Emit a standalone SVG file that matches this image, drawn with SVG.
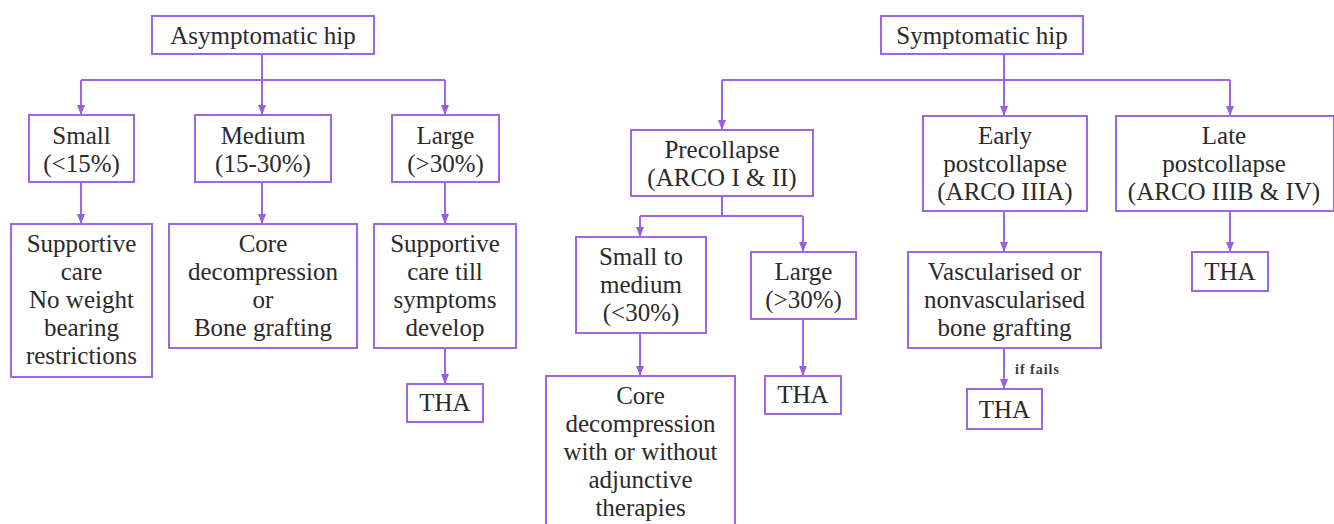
<svg xmlns="http://www.w3.org/2000/svg" width="1334" height="524" viewBox="0 0 1334 524">
<defs>
<marker id="ah" markerUnits="userSpaceOnUse" markerWidth="10" markerHeight="8" refX="10" refY="4" orient="auto">
<path d="M0,0 L10,4 L0,8 Z" fill="#9b5de0"/>
</marker>
<style>
.box{fill:#fff;stroke:#a066e0;stroke-width:2}
.t{font-family:'Liberation Serif',serif;font-size:25px;fill:#2a2a2a;text-anchor:middle}
.s{font-family:'Liberation Serif',serif;font-size:14px;font-weight:bold;letter-spacing:1px;fill:#3a3a3a}
.c{fill:none;stroke:#a066e0;stroke-width:2}
.a{fill:none;stroke:#a066e0;stroke-width:2;marker-end:url(#ah)}
</style>
</defs>
<rect width="1334" height="524" fill="#fff"/>
<g id="connectors">
<path class="c" d="M262,54 V80 M81,80 H445"/>
<path class="a" d="M81,80 V115"/>
<path class="a" d="M262,80 V115"/>
<path class="a" d="M445,80 V115"/>
<path class="a" d="M81,182 V224"/>
<path class="a" d="M262,182 V224"/>
<path class="a" d="M445,182 V224"/>
<path class="a" d="M445,348 V384"/>
<path class="c" d="M1004,54 V80 M722,80 H1230"/>
<path class="a" d="M722,80 V130"/>
<path class="a" d="M1004,80 V116"/>
<path class="a" d="M1230,80 V116"/>
<path class="c" d="M722,196 V216 M640,216 H803"/>
<path class="a" d="M640,216 V237"/>
<path class="a" d="M803,216 V252"/>
<path class="a" d="M640,333 V376"/>
<path class="a" d="M803,319 V376"/>
<path class="a" d="M1004,211 V252"/>
<path class="a" d="M1004,348 V389"/>
<path class="a" d="M1230,211 V252"/>
<text class="s" x="1015" y="374">if fails</text>
</g>
<g id="asymptomatic">
<rect class="box" x="152" y="16" width="222" height="38"/>
<text class="t" x="263" y="44">Asymptomatic hip</text>
</g>
<g id="small">
<rect class="box" x="29" y="115" width="105" height="67"/>
<text class="t" x="81.5" y="144">Small</text>
<text class="t" x="81.5" y="172">(&lt;15%)</text>
</g>
<g id="medium">
<rect class="box" x="195" y="115" width="136" height="67"/>
<text class="t" x="263" y="144">Medium</text>
<text class="t" x="263" y="172">(15-30%)</text>
</g>
<g id="large-a">
<rect class="box" x="392" y="115" width="107" height="67"/>
<text class="t" x="445.5" y="144">Large</text>
<text class="t" x="445.5" y="172">(&gt;30%)</text>
</g>
<g id="supportive">
<rect class="box" x="11" y="224" width="141" height="153"/>
<text class="t" x="81.5" y="252">Supportive</text>
<text class="t" x="81.5" y="280">care</text>
<text class="t" x="81.5" y="308">No weight</text>
<text class="t" x="81.5" y="336">bearing</text>
<text class="t" x="81.5" y="364">restrictions</text>
</g>
<g id="core-a">
<rect class="box" x="169" y="224" width="188" height="124"/>
<text class="t" x="263" y="252">Core</text>
<text class="t" x="263" y="280">decompression</text>
<text class="t" x="263" y="308">or</text>
<text class="t" x="263" y="336">Bone grafting</text>
</g>
<g id="supportive-till">
<rect class="box" x="374" y="224" width="142" height="124"/>
<text class="t" x="445" y="252">Supportive</text>
<text class="t" x="445" y="280">care till</text>
<text class="t" x="445" y="308">symptoms</text>
<text class="t" x="445" y="336">develop</text>
</g>
<g id="tha-a">
<rect class="box" x="407" y="384" width="76" height="38"/>
<text class="t" x="445" y="411">THA</text>
</g>
<g id="symptomatic">
<rect class="box" x="881" y="16" width="202" height="38"/>
<text class="t" x="982" y="44">Symptomatic hip</text>
</g>
<g id="precollapse">
<rect class="box" x="631" y="130" width="182" height="66"/>
<text class="t" x="722" y="158">Precollapse</text>
<text class="t" x="722" y="186">(ARCO I &amp; II)</text>
</g>
<g id="early">
<rect class="box" x="923" y="116" width="164" height="95"/>
<text class="t" x="1005" y="144">Early</text>
<text class="t" x="1005" y="172">postcollapse</text>
<text class="t" x="1005" y="200">(ARCO IIIA)</text>
</g>
<g id="late">
<rect class="box" x="1116" y="116" width="218" height="95"/>
<text class="t" x="1224" y="144">Late</text>
<text class="t" x="1224" y="172">postcollapse</text>
<text class="t" x="1224" y="200">(ARCO IIIB &amp; IV)</text>
</g>
<g id="small-medium">
<rect class="box" x="576" y="237" width="130" height="96"/>
<text class="t" x="641" y="265">Small to</text>
<text class="t" x="641" y="293">medium</text>
<text class="t" x="641" y="321">(&lt;30%)</text>
</g>
<g id="large-s">
<rect class="box" x="751" y="252" width="105" height="67"/>
<text class="t" x="803.5" y="280">Large</text>
<text class="t" x="803.5" y="308">(&gt;30%)</text>
</g>
<g id="core-s">
<rect class="box" x="546" y="376" width="189" height="160"/>
<text class="t" x="640.5" y="404">Core</text>
<text class="t" x="640.5" y="432">decompression</text>
<text class="t" x="640.5" y="460">with or without</text>
<text class="t" x="640.5" y="488">adjunctive</text>
<text class="t" x="640.5" y="516">therapies</text>
</g>
<g id="tha-large">
<rect class="box" x="765" y="376" width="76" height="38"/>
<text class="t" x="803" y="403">THA</text>
</g>
<g id="vascularised">
<rect class="box" x="908" y="252" width="193" height="96"/>
<text class="t" x="1004.5" y="280">Vascularised or</text>
<text class="t" x="1004.5" y="308">nonvascularised</text>
<text class="t" x="1004.5" y="336">bone grafting</text>
</g>
<g id="tha-early">
<rect class="box" x="967" y="389" width="75" height="40"/>
<text class="t" x="1004.5" y="418">THA</text>
</g>
<g id="tha-late">
<rect class="box" x="1192" y="252" width="76" height="39"/>
<text class="t" x="1230" y="280">THA</text>
</g>
</svg>
